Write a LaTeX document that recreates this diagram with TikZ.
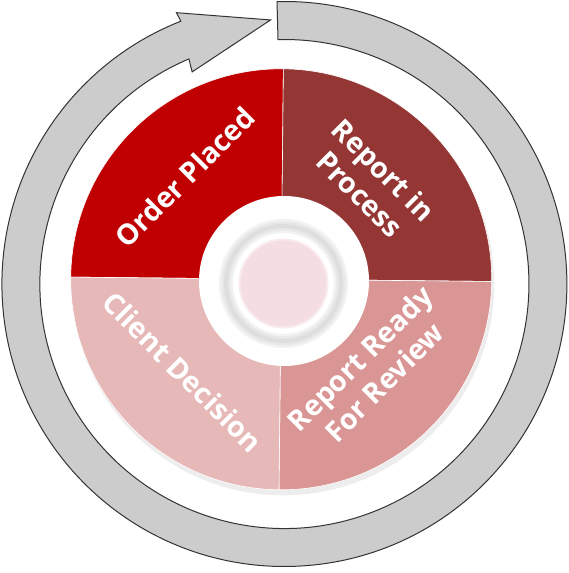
\documentclass[tikz,border=0pt]{standalone}
\usepackage{fontspec}
\setmainfont{Open Sans}
\definecolor{arrowgray}{HTML}{CCCCCC}
\definecolor{cOP}{HTML}{C00000}
\definecolor{cRP}{HTML}{943634}
\definecolor{cRR}{HTML}{D99694}
\definecolor{cCD}{HTML}{E6B8B7}
\definecolor{cPink}{HTML}{F5DEE2}
\begin{document}
\begin{tikzpicture}[x=1pt,y=1pt,
  lbl/.style={text=white,font=\fontsize{28.5}{34}\selectfont\bfseries,align=center,inner sep=0pt},
  quad/.style={draw=white,line width=0.6pt}]
\useasboundingbox (0,0) rectangle (568,573);
% circular arrow
\begin{scope}[shift={(284.4,289)}]
\path[fill=arrowgray,draw=black!80,line width=1pt,line join=miter]
  (91.5:282.5) arc[start angle=91.5,end angle=-248.5,radius=282.5]
  -- (111.7:292) -- (93:264.4) -- (113.5:231.3) -- (113:244.5)
  arc[start angle=-247,end angle=91.5,radius=244.5] -- cycle;
\end{scope}
% pie with shadow
\begin{scope}[shift={(281.2,293.7)},rotate=-0.6]
\fill[black!7] (2,-5) circle (211);
\fill[quad,fill=cOP] (0,0) -- (90:210.5) arc[start angle=90,end angle=180,radius=210.5] -- cycle;
\fill[quad,fill=cRP] (0,0) -- (0:210.5) arc[start angle=0,end angle=90,radius=210.5] -- cycle;
\fill[quad,fill=cRR] (0,0) -- (270:210.5) arc[start angle=270,end angle=360,radius=210.5] -- cycle;
\fill[quad,fill=cCD] (0,0) -- (180:210.5) arc[start angle=180,end angle=270,radius=210.5] -- cycle;
\end{scope}
% center
\fill[white] (284,292) circle (85);
\draw[black!5,line width=14pt] (283.5,289.5) circle (57.5);
\draw[black!9,line width=9pt] (283.5,289.5) circle (57.5);
\draw[black!13,line width=4pt] (283.5,289.5) circle (57.5);
\fill[cPink!60] (283.5,289.5) circle (45);
\fill[cPink] (283.5,289.5) circle (43);
% labels
\node[lbl,rotate=45] (op) at (185,396) {Order Placed};
\node[lbl,rotate=-45] (rp) at (372,391) {Report in\\Process};
\node[lbl,rotate=45] (rr) at (372,203) {Report Ready\\For Review};
\node[lbl,rotate=-45] (cd) at (183,201) {Client Decision};
\end{tikzpicture}
\end{document}
